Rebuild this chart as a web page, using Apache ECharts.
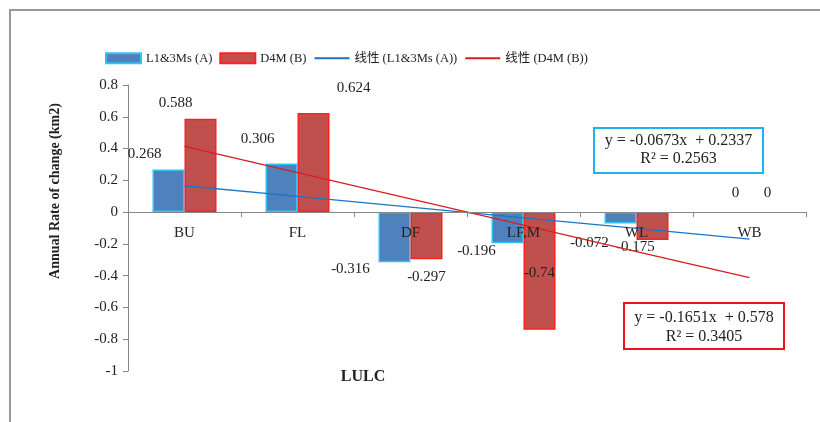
<!DOCTYPE html>
<html>
<head>
<meta charset="utf-8">
<script src="https://cdn.jsdelivr.net/npm/echarts@6/dist/echarts.min.js"></script>
<style>
html,body{margin:0;padding:0;background:#fff;}
#chart{width:820px;height:422px;}
</style>
</head>
<body>
<div id="chart"></div>
<script>
const categories = ['BU', 'FL', 'DF', 'LF,M', 'WL', 'WB'];
const seriesA = [0.268, 0.306, -0.316, -0.196, -0.072, 0];
const seriesB = [0.588, 0.624, -0.297, -0.74, -0.175, 0];
const trendA = [0.166, 0.099, 0.032, -0.036, -0.103, -0.170];
const trendB = [0.413, 0.248, 0.083, -0.082, -0.248, -0.413];
const yTicks = { min: -1, max: 0.8, interval: 0.2 };
const eqA = ['y = -0.0673x  + 0.2337', 'R² = 0.2563'];
const eqB = ['y = -0.1651x  + 0.578', 'R² = 0.3405'];

// label offsets (layout only)
const offA = [[-24, -3], [-24, -12], [-44, -6], [-31, -5], [-31, 7], [2, -7]];
const offB = [[-25, -3], [40, -12], [0, 5], [0, -69], [-17, -5], [2, -7]];

const FONT = '"Liberation Serif", "Times New Roman", "Noto Sans CJK SC", serif';

function buildBarData(vals, offs) {
  return vals.map((v, i) => {
    const item = {
      value: v,
      label: { position: v < 0 ? 'bottom' : 'top', offset: offs[i] }
    };
    if (v === 0) item.itemStyle = { borderWidth: 0 };
    return item;
  });
}

const chart = echarts.init(document.getElementById('chart'));
chart.setOption({
  backgroundColor: '#fff',
  animation: false,
  textStyle: { fontFamily: FONT },
  grid: { left: 128, right: 14, top: 85, bottom: 51 },
  legend: {
    left: 100, top: 47,
    itemWidth: 35, itemHeight: 10, itemGap: 7,
    textStyle: { fontFamily: FONT, fontSize: 12.5, color: '#222' },
    data: [
      { name: 'L1&3Ms (A)', icon: 'rect' },
      { name: 'D4M (B)', icon: 'rect' },
      { name: '线性 (L1&3Ms (A))', itemStyle: { opacity: 0 } },
      { name: '线性 (D4M (B))', itemStyle: { opacity: 0 } }
    ]
  },
  xAxis: {
    type: 'category',
    data: categories,
    z: 10,
    axisLine: { onZero: true, lineStyle: { color: '#888', width: 1 } },
    axisTick: { show: true, length: 5, lineStyle: { color: '#888' } },
    axisLabel: { fontFamily: FONT, fontSize: 15, color: '#222', margin: -145 },
    splitLine: { show: false }
  },
  yAxis: {
    type: 'value',
    min: yTicks.min, max: yTicks.max, interval: yTicks.interval,
    axisLine: { show: true, lineStyle: { color: '#888', width: 1 } },
    axisTick: { show: true, length: 5, lineStyle: { color: '#888' } },
    axisLabel: {
      fontFamily: FONT, fontSize: 15, color: '#222', margin: 10,
      formatter: v => String(Math.round(v * 10) / 10)
    },
    splitLine: { show: false }
  },
  series: [
    {
      name: 'L1&3Ms (A)', type: 'bar', barWidth: 32, barGap: '0%',
      itemStyle: { color: '#4F81BD', borderColor: '#2EC4F5', borderWidth: 1.5 },
      label: { show: true, fontFamily: FONT, fontSize: 15, color: '#222' },
      data: buildBarData(seriesA, offA), z: 2
    },
    {
      name: 'D4M (B)', type: 'bar', barWidth: 32, barGap: '0%',
      itemStyle: { color: '#C0504D', borderColor: '#FF2020', borderWidth: 1.5 },
      label: { show: true, fontFamily: FONT, fontSize: 15, color: '#222' },
      data: buildBarData(seriesB, offB), z: 2
    },
    {
      name: '线性 (L1&3Ms (A))', type: 'line', data: trendA,
      symbol: 'none', showSymbol: false,
      lineStyle: { color: '#1C74C6', width: 1.3 },
      itemStyle: { color: '#1C74C6' }, z: 3
    },
    {
      name: '线性 (D4M (B))', type: 'line', data: trendB,
      symbol: 'none', showSymbol: false,
      lineStyle: { color: '#D81E1E', width: 1.3 },
      itemStyle: { color: '#D81E1E' }, z: 3
    }
  ],
  graphic: [
    { type: 'rect', shape: { x: 10, y: 10, width: 830, height: 430 },
      style: { fill: 'none', stroke: '#999', lineWidth: 2 }, silent: true },
    { type: 'text', x: 55, y: 191, rotation: Math.PI / 2,
      style: { text: 'Annual Rate of change (km2)', font: 'bold 14px ' + FONT,
               fill: '#222', textAlign: 'center', textVerticalAlign: 'middle' } },
    { type: 'text', x: 363, y: 377,
      style: { text: 'LULC', font: 'bold 16px ' + FONT,
               fill: '#222', textAlign: 'center', textVerticalAlign: 'middle' } },
    { type: 'rect', shape: { x: 594, y: 128, width: 169, height: 45 },
      style: { fill: '#fff', stroke: '#1FB4EE', lineWidth: 2 }, z: 10 },
    { type: 'text', x: 678.5, y: 141, z: 11,
      style: { text: eqA[0], font: '16px ' + FONT, fill: '#222', textAlign: 'center', textVerticalAlign: 'middle' } },
    { type: 'text', x: 678.5, y: 159, z: 11,
      style: { text: eqA[1], font: '16px ' + FONT, fill: '#222', textAlign: 'center', textVerticalAlign: 'middle' } },
    { type: 'rect', shape: { x: 624, y: 303, width: 160, height: 46 },
      style: { fill: '#fff', stroke: '#E8141A', lineWidth: 2 }, z: 10 },
    { type: 'text', x: 704, y: 318, z: 11,
      style: { text: eqB[0], font: '16px ' + FONT, fill: '#222', textAlign: 'center', textVerticalAlign: 'middle' } },
    { type: 'text', x: 704, y: 337, z: 11,
      style: { text: eqB[1], font: '16px ' + FONT, fill: '#222', textAlign: 'center', textVerticalAlign: 'middle' } }
  ]
});
</script>
</body>
</html>
